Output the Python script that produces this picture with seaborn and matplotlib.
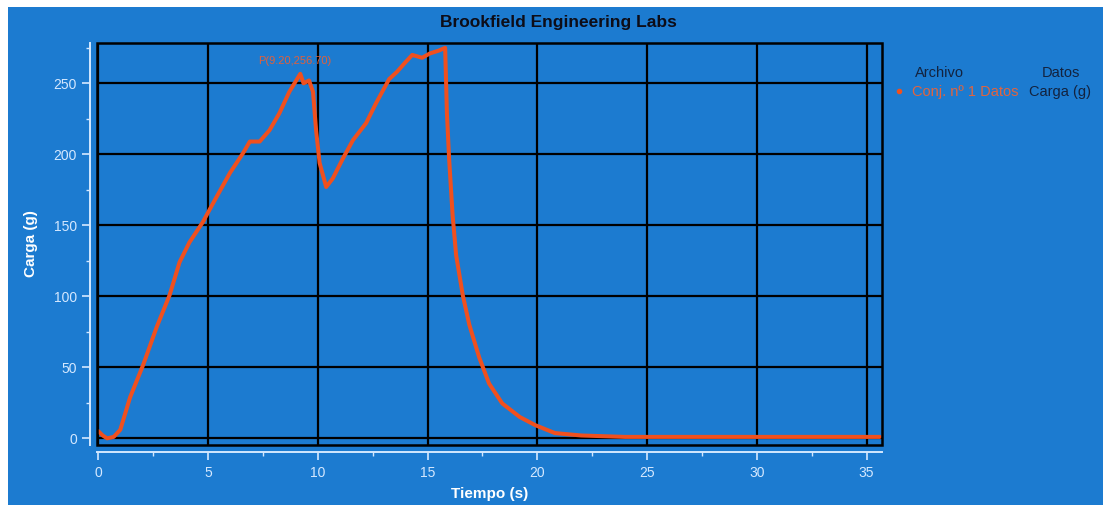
import matplotlib
matplotlib.use("Agg")
import matplotlib.pyplot as plt
from matplotlib.patches import Rectangle
from matplotlib.lines import Line2D
from matplotlib.ticker import MultipleLocator
import numpy as np
import pandas as pd
import seaborn as sns

# Texture-analyser run: load (g) against time (s)
tiempo_s = [0.0, 0.2, 0.4, 0.7, 1.0, 1.45, 2.05, 2.65, 3.25, 3.7, 4.15, 4.75,
            5.35, 6.0, 6.6, 6.9, 7.35, 7.8, 8.25, 8.7, 9.2, 9.35, 9.6, 9.78,
            9.92, 10.08, 10.38, 10.68, 11.14, 11.6, 12.2, 12.65, 13.25, 13.6,
            14.0, 14.3, 14.75, 15.1, 15.5, 15.8, 15.88, 15.98, 16.14, 16.3,
            16.6, 16.9, 17.35, 17.8, 18.4, 19.2, 19.9, 20.8, 22.0, 24.0, 27.0,
            30.0, 33.0, 35.6]
carga_g = [5, 2, 0, 1, 6, 29, 52, 78, 101, 124, 138, 152,
           169, 187, 201, 209, 209, 217, 229, 244, 256.7, 250, 252, 244,
           217, 194, 177, 183, 197, 210, 222, 236, 253, 258,
           265, 270, 268, 271, 273, 275, 229, 197, 157, 129,
           101, 80, 57, 38.6, 24.6, 15, 9.3, 3.7, 2, 1, 1,
           1, 1, 1]

x_ticks = [0, 5, 10, 15, 20, 25, 30, 35]
y_ticks = [0, 50, 100, 150, 200, 250]

titulo = "Brookfield Engineering Labs"
serie = "Conj. nº 1 Datos"
columna = "Carga (g)"

df = pd.DataFrame({"Tiempo (s)": tiempo_s, "Carga (g)": carga_g})

BLUE = "#1c7bd0"
RED = "#f0501e"
TICK = "#d4e8ff"
NAVY = "#13233f"

sns.set_theme(style="white")
plt.rcParams["font.family"] = ["Liberation Sans", "DejaVu Sans"]

fig = plt.figure(figsize=(11.03, 5.05), dpi=100, facecolor="white")
fig.patches.append(Rectangle((8 / 1103, 0), 1 - 8 / 1103, 498 / 505,
                             transform=fig.transFigure, facecolor=BLUE,
                             edgecolor="none", zorder=-10))

ax = fig.add_axes([97 / 1103, 60 / 505, 785 / 1103, 402 / 505])
ax.set_facecolor(BLUE)

sns.lineplot(data=df, x="Tiempo (s)", y="Carga (g)", ax=ax, color=RED,
             linewidth=2.9, zorder=5, legend=False)

ax.set_xlim(-0.06, 35.7)
ax.set_ylim(-4.7, 278.4)
ax.set_xticks(x_ticks)
ax.set_yticks(y_ticks)
ax.xaxis.set_minor_locator(MultipleLocator(2.5))
ax.yaxis.set_minor_locator(MultipleLocator(25))

# black grid inside a black frame
ax.grid(True, which="major", color="black", linewidth=1.6)
ax.set_axisbelow(True)
ax.add_patch(Rectangle((0, 0), 1, 1, transform=ax.transAxes, fill=False,
                       edgecolor="black", linewidth=1.8, zorder=6,
                       clip_on=False))

# light axis lines offset outside the frame
for side in ("top", "right"):
    ax.spines[side].set_visible(False)
for side in ("left", "bottom"):
    ax.spines[side].set_color(TICK)
    ax.spines[side].set_linewidth(1.4)
    ax.spines[side].set_position(("outward", 5))
ax.tick_params(axis="both", which="major", colors=TICK, length=6, width=1.2,
               labelsize=10, labelcolor=TICK, left=True, bottom=True)
ax.tick_params(axis="both", which="minor", colors=TICK, length=3, width=1.0,
               left=True, bottom=True)
ax.tick_params(axis="x", pad=4)

ax.set_xlabel("Tiempo (s)", color="white", fontsize=11, fontweight="bold",
              labelpad=5)
ax.set_ylabel("Carga (g)", color="white", fontsize=11, fontweight="bold",
              labelpad=11)

# peak label
i_pk = int(np.argmax(carga_g[:25]))
t_pk, v_pk = tiempo_s[i_pk], carga_g[i_pk]
ax.annotate(f"P({t_pk:.2f},{v_pk:.2f})", xy=(t_pk, v_pk),
            xytext=(-4, 9), textcoords="offset points", ha="center",
            va="center", fontsize=8, color="#e0603c", zorder=7)

fig.text(558 / 1103, 1 - 22 / 505, titulo, ha="center", va="center",
         fontsize=12.5, fontweight="bold", color="#0d0d18")

# legend block at the right
fig.text(939 / 1103, 1 - 73 / 505, "Archivo", ha="center", va="center",
         fontsize=10.5, color=NAVY)
fig.text(1061 / 1103, 1 - 73 / 505, "Datos", ha="center", va="center",
         fontsize=10.5, color=NAVY)
handle = Line2D([], [], marker="o", linestyle="", color=RED, markersize=3)
leg = ax.legend([handle], [serie], loc="center left",
                bbox_to_anchor=(895 / 1103, 1 - 92 / 505),
                bbox_transform=fig.transFigure, frameon=False,
                fontsize=10.5, labelcolor="#e2643e", handlelength=0.6,
                handletextpad=0.6, borderpad=0, borderaxespad=0)
fig.text(1060 / 1103, 1 - 92 / 505, columna, ha="center", va="center",
         fontsize=10.5, color=NAVY)

fig.savefig("out.png", dpi=100, facecolor=fig.get_facecolor())
